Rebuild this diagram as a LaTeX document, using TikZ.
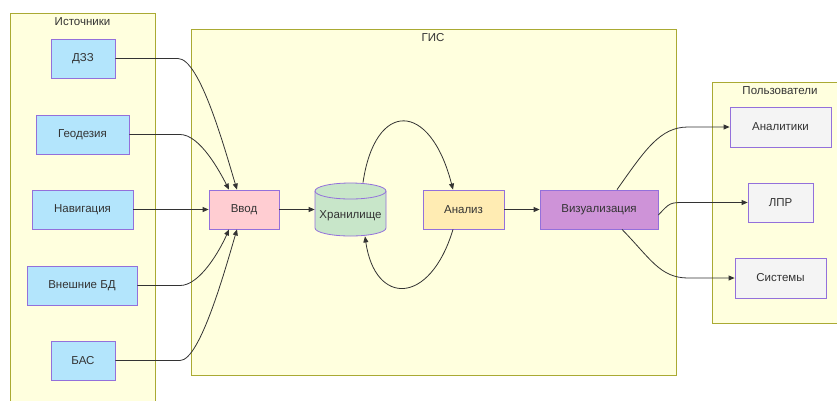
\documentclass[tikz,border=0pt]{standalone}
\usepackage{fontspec}
\setmainfont{Liberation Sans}
\usetikzlibrary{arrows.meta}

\definecolor{clusterfill}{HTML}{FFFFDE}
\definecolor{clusterline}{HTML}{AAAA33}
\definecolor{nodeline}{HTML}{9370DB}
\definecolor{srcfill}{HTML}{B3E5FC}
\definecolor{inpfill}{HTML}{FFCDD2}
\definecolor{storefill}{HTML}{C8E6C9}
\definecolor{anafill}{HTML}{FFECB3}
\definecolor{visfill}{HTML}{CE93D8}
\definecolor{userfill}{HTML}{F4F4F4}
\definecolor{edgecol}{HTML}{333333}

\tikzset{
  cluster/.style={draw=clusterline, fill=clusterfill, line width=0.8pt},
  clabel/.style={text=edgecol, font=\fontsize{11.5}{13}\selectfont, inner sep=0pt},
  box/.style={draw=nodeline, line width=0.8pt, text=edgecol,
    font=\fontsize{11.5}{13}\selectfont, inner sep=0pt, minimum height=39pt},
  flow/.style={draw=edgecol, line width=0.8pt,
    -{Triangle[length=6pt,width=5pt]}},
}

\begin{document}
\begin{tikzpicture}[x=1pt,y=-1pt]
\useasboundingbox (0,0) rectangle (837,400);

% subgraph frames
\draw[cluster] (10,13) rectangle (155,403);
\node[clabel] (srcT) at (82.5,22) {Источники};
\draw[cluster] (191,29) rectangle (676,375);
\node[clabel] (gisT) at (433,38) {ГИС};
\draw[cluster] (712,82) rectangle (840,323);
\node[clabel] (usrT) at (780,91) {Пользователи};

% data sources
\node[box, fill=srcfill, minimum width=64pt]  (dzz) at (83,58.5)  {ДЗЗ};
\node[box, fill=srcfill, minimum width=93pt]  (geo) at (82.5,134.5) {Геодезия};
\node[box, fill=srcfill, minimum width=101pt] (nav) at (82.5,209.5) {Навигация};
\node[box, fill=srcfill, minimum width=110pt] (ext) at (82,285.5) {Внешние БД};
\node[box, fill=srcfill, minimum width=64pt]  (bas) at (83,360.5) {БАС};

% GIS core
\node[box, fill=inpfill, minimum width=70pt] (inp) at (244,209.5) {Ввод};

% storage drawn as a cylinder around an invisible node
\fill[storefill] (315,191) -- (315,228)
  arc[start angle=180, end angle=0, x radius=35.5, y radius=8] -- (386,191)
  arc[start angle=0, end angle=180, x radius=35.5, y radius=8] -- cycle;
\draw[nodeline, line width=0.8pt] (315,191) -- (315,228)
  arc[start angle=180, end angle=0, x radius=35.5, y radius=8] -- (386,191);
\draw[nodeline, line width=0.8pt, fill=storefill] (350.5,191) ellipse [x radius=35.5, y radius=8];
\node[box, draw=none, minimum width=71pt, minimum height=53pt] (store) at (350.5,209.5) {};
\node[text=edgecol, font=\fontsize{11.5}{13}\selectfont, inner sep=0pt] (storeT) at (350.5,216) {Хранилище};

\node[box, fill=anafill, minimum width=81pt]  (ana) at (463.5,209.5) {Анализ};
\node[box, fill=visfill, minimum width=118pt] (vis) at (599,209.5) {Визуализация};

% users
\node[box, fill=userfill, minimum width=101pt, minimum height=40pt] (an)  at (780.5,127) {Аналитики};
\node[box, fill=userfill, minimum width=65pt]  (lpr) at (780.5,202.5) {ЛПР};
\node[box, fill=userfill, minimum width=91pt, minimum height=40pt] (sys) at (780.5,278) {Системы};

% helper points where the source lines start to bend
\coordinate (b1) at (178,58.5);
\coordinate (b2) at (180,134.5);
\coordinate (b4) at (180,285.5);
\coordinate (b5) at (180,360.5);

% sources -> input
\draw[flow] (dzz.east) -- (b1) .. controls (200,58.5) and (225,150) .. ([xshift=-7pt]inp.north);
\draw[flow] (geo.east) -- (b2) .. controls (200,134.5) and (220,172) .. ([xshift=-15pt]inp.north);
\draw[flow] (nav.east) -- (inp.west);
\draw[flow] (ext.east) -- (b4) .. controls (200,285.5) and (220,250) .. ([xshift=-15pt]inp.south);
\draw[flow] (bas.east) -- (b5) .. controls (200,360.5) and (225,270) .. ([xshift=-7pt]inp.south);

% processing chain
\draw[flow] (inp.east) -- (store.west);
\draw[flow] ([xshift=12.5pt]store.north) .. controls (375,100) and (430,100) .. ([xshift=-10.5pt]ana.north);
\draw[flow] ([xshift=-10.5pt]ana.south) .. controls (430,306) and (375,306) .. ([xshift=14.5pt]store.south);
\draw[flow] (ana.east) -- (vis.west);

% outputs
\coordinate (o1) at (688,127);
\coordinate (o2) at (685,202.5);
\coordinate (o3) at (688,278);
\draw[flow] ([xshift=18pt]vis.north) .. controls (645,150) and (660,127) .. (o1) -- (an.west);
\draw[flow] ([yshift=-5.5pt]vis.east) .. controls (670,202.5) .. (o2) -- (lpr.west);
\draw[flow] ([xshift=23pt]vis.south) .. controls (650,258) and (660,278) .. (o3) -- (sys.west);
\end{tikzpicture}
\end{document}
